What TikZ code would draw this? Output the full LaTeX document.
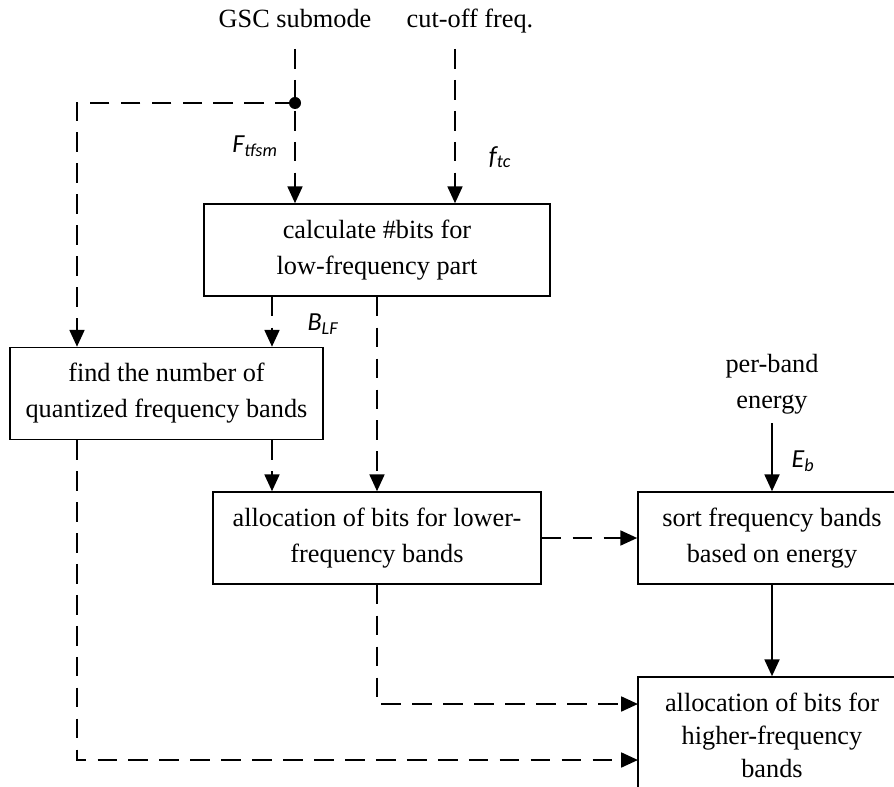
\documentclass[tikz,border=0pt]{standalone}
\usepackage{fontspec}
\setmainfont{Liberation Serif}
\setsansfont{Carlito}
\usetikzlibrary{arrows.meta,positioning}

\begin{document}
\begin{tikzpicture}[
    x=0.025cm,
    y=-0.025cm,
    font=\fontsize{18.7}{25.6}\selectfont,
    block/.style={
      rectangle,
      draw,
      line width=1pt,
      align=center,
      inner sep=0pt,
      minimum height=2.3cm
    },
    plain/.style={
      align=center,
      inner sep=0pt
    },
    dot/.style={
      circle,
      fill,
      inner sep=0pt,
      minimum size=0.3cm
    },
    tag/.style={
      font=\sffamily\itshape\fontsize{18.5}{20}\selectfont,
      inner sep=0pt
    },
    line/.style={draw, -{Triangle[length=12pt,width=10.5pt]}, line width=1.8pt},
    dline/.style={line, dash pattern=on 14pt off 8pt}
]
    \useasboundingbox (0,0) rectangle (894,787);

    % Nodes
    \node [plain, anchor=base] (gsc) at (295,28) {GSC submode};
    \node [plain, anchor=base] (cutoff) at (470,28) {cut-off freq.};
    \node [block, minimum width=8.65cm] (calc) at (377,250) {calculate \#bits for\\low-frequency part};
    \node [block, minimum width=7.825cm] (find) at (166.5,393.5) {find the number of\\quantized frequency bands};
    \node [block, minimum width=8.2cm] (alloclow) at (377,538) {allocation of bits for lower-\\frequency bands};
    \node [plain] (perband) at (772,384) {per-band\\energy};
    \node [block, minimum width=6.7cm] (sort) at (772,538) {sort frequency bands\\based on energy};
    \node [block, minimum width=6.7cm, minimum height=2.9cm,
      font=\fontsize{18.7}{23.5}\selectfont] (allochigh) at (772,735) {allocation of bits for\\higher-frequency\\bands};
    \node [dot] (junc) at (295,103) {};

    % Coordinates
    \coordinate (gtop) at (295,49);
    \coordinate (ctop) at (455,49);
    \coordinate (etop) at (772,423);
    \coordinate (jl) at (77,103);
    \coordinate (blf) at (272,0);
    \coordinate (inA) at (638,704);
    \coordinate (inB) at (638,760);

    % Edges
    \path [dline] (gtop) -- (gtop |- calc.north);
    \path [dline] (ctop) -- (ctop |- calc.north);
    \path [dline] (junc.center) -- (jl) -- (jl |- find.north);
    \path [dline] (calc.south -| blf) -- (find.north -| blf);
    \path [dline] (find.south -| blf) -- (alloclow.north -| blf);
    \path [dline] (calc.south) -- (alloclow.north);
    \path [dline] (alloclow) -- (sort);
    \path [dline] (alloclow.south) |- (inA);
    \path [dline] (find.south -| jl) |- (inB);
    \path [line] (etop) -- (sort.north);
    \path [line] (sort) -- (allochigh);

    % Annotations
    \node [tag] (ftfsm) at (255,146) {F\textsubscript{tfsm}};
    \node [tag] (ftc) at (500,157) {f\textsubscript{tc}};
    \node [tag] (blflabel) at (323,324) {B\textsubscript{LF}};
    \node [tag] (eb) at (803,461) {E\textsubscript{b}};

\end{tikzpicture}
\end{document}
